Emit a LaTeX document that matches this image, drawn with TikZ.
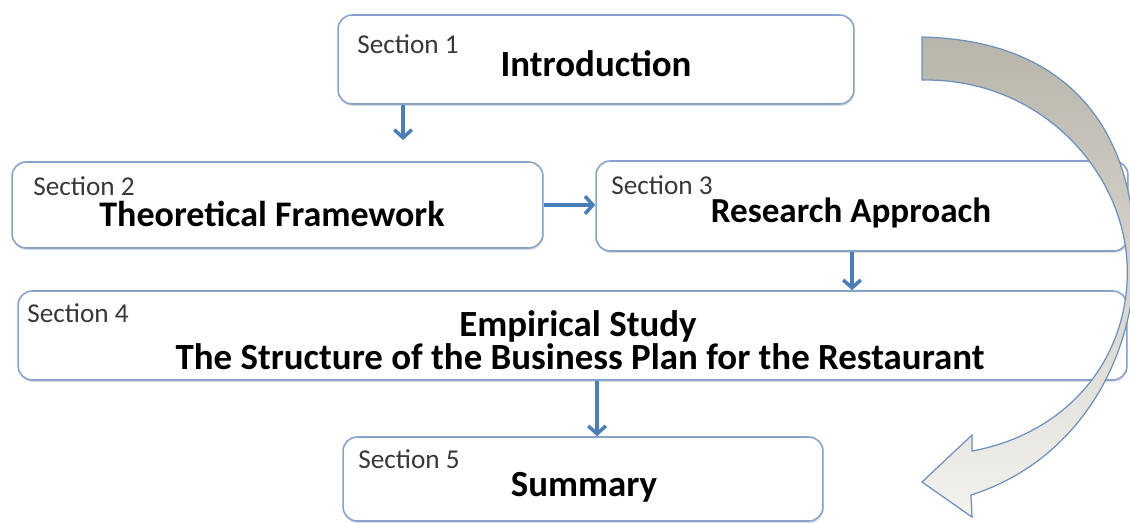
\documentclass[tikz,border=0pt]{standalone}
\usepackage{fontspec}
\setmainfont{Carlito}
\usetikzlibrary{arrows.meta,shadows}

\definecolor{boxline}{HTML}{87A3CB}
\definecolor{connblue}{HTML}{4A7EBB}
\definecolor{arrline}{HTML}{6D8FBF}
\definecolor{arrtop}{HTML}{B8B5AA}
\definecolor{arrbot}{HTML}{F3F2EE}

\tikzset{
  box/.style={draw=boxline, line width=0.9pt, rounded corners=8pt, fill=white,
    inner sep=0pt, drop shadow={shadow xshift=0.4pt, shadow yshift=-1.2pt, opacity=0.25}},
  lbl/.style={anchor=west, inner sep=0pt, text=black!78, font=\fontsize{15.5}{17}\selectfont},
  ttl/.style={inner sep=0pt, font=\bfseries\fontsize{21}{25}\selectfont},
  conn/.style={draw=connblue, line width=2pt, -{Straight Barb[length=4.5pt,width=10pt]}},
  bigarrow/.style={draw=arrline, line width=0.7pt, top color=arrtop, bottom color=arrbot}
}

\begin{document}
\begin{tikzpicture}[x=0.02cm,y=-0.02cm]
\useasboundingbox (0,0) rectangle (1130,522);

\node[box, minimum width=10.32cm, minimum height=1.78cm] (s1) at (596,59.5) {};
\node[box, minimum width=10.62cm, minimum height=1.72cm] (s2) at (277.5,205) {};
\node[box, minimum width=10.64cm, minimum height=1.80cm] (s3) at (862,206) {};
\node[box, minimum width=22.18cm, minimum height=1.78cm] (s4) at (572.5,335.5) {};
\node[box, minimum width=9.60cm, minimum height=1.68cm] (s5) at (583,479) {};

\node[lbl] (l1) at (357,44) {Section 1};
\node[lbl] (l2) at (33,186) {Section 2};
\node[lbl] (l3) at (611,185) {Section 3};
\node[lbl] (l4) at (27,313) {Section 4};
\node[lbl] (l5) at (358,459) {Section 5};

\node[ttl] (t1) at (596,64) {Introduction};
\node[ttl, font=\bfseries\fontsize{20.5}{25}\selectfont] (t2) at (272,214) {Theoretical Framework};
\node[ttl, font=\bfseries\fontsize{20}{25}\selectfont] (t3) at (851,213) {Research Approach};
\node[ttl] (t4) at (578,326) {Empirical Study};
\node[ttl] (t4b) at (580,357) {The Structure of the Business Plan for the Restaurant};
\node[ttl] (t5) at (584,487) {Summary};

\coordinate (e1) at (403,140);
\coordinate (c3) at (852,0);
\coordinate (c4) at (597,0);
\draw[conn] (s1.south -| e1) -- (e1);
\draw[conn] (s2.east) -- (s2.east -| s3.west);
\draw[conn] (s3.south -| c3) -- (s4.north -| c3);
\draw[conn] (s4.south -| c4) -- (s5.north -| c4);

% curved arrow back from section 1 down to section 5
\path[bigarrow] (922,37) .. controls (1060,40) and (1130,120) .. (1134.7,244.9)
  .. controls (1139,357) and (1077.7,461.2) .. (971,495)
  -- (972,517) -- (922,482) -- (972,435) -- (972,451)
  .. controls (1070,433) and (1132,355) .. (1127,262)
  .. controls (1122,170) and (1040,78) .. (922,80) -- cycle;
\end{tikzpicture}
\end{document}
